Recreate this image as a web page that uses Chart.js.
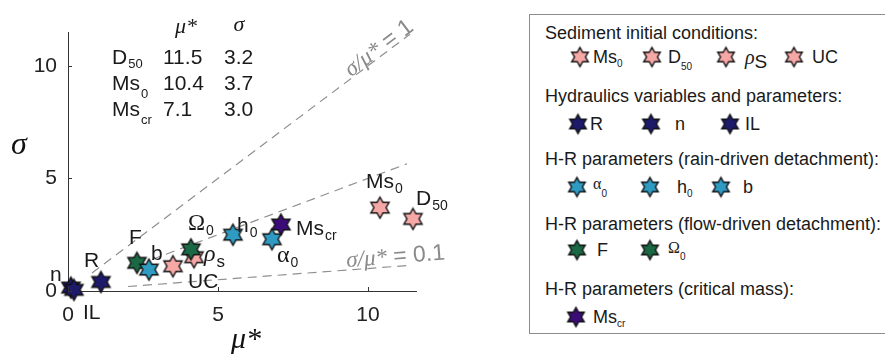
<!DOCTYPE html>
<html><head><meta charset="utf-8">
<script src="https://cdn.jsdelivr.net/npm/chart.js@4.4.1/dist/chart.umd.min.js"></script>
<style>
html,body{margin:0;padding:0;background:#fff;}
body{width:885px;height:357px;overflow:hidden;position:relative;font-family:"Liberation Sans",Arial,sans-serif;color:#1a1a1a;}
#plot{position:absolute;left:0;top:0;}
#legendBox{position:absolute;left:529px;top:14px;width:370px;height:320px;border:1.5px solid #8d8d8d;box-sizing:border-box;background:#fff;}
.lg{position:absolute;white-space:nowrap;font-size:18px;line-height:1;transform:translateY(-50%);}
.lg sub{font-size:10px;vertical-align:baseline;position:relative;top:4px;}
.star{position:absolute;transform:translate(-50%,-50%);}
.gr{font-family:"Liberation Serif",serif;}
</style></head><body>
<canvas id="plot" width="520" height="357"></canvas>
<div id="legendBox"></div>
<script>
// ---------------- DATA ----------------
const paramNames = ['Ms0','D50','rho_s','UC','R','n','IL','alpha0','h0','b','F','Omega0','Ms_cr'];
const muStar     = [10.4, 11.5, 4.2, 3.5, 1.1, 0.1, 0.2, 6.8, 5.5, 2.7, 2.3, 4.1, 7.1];
const sigmaVals  = [3.7, 3.2, 1.5, 1.1, 0.4, 0.15, 0.05, 2.3, 2.5, 0.95, 1.25, 1.85, 2.95];
const groupOf    = [0,0,0,0,1,1,1,2,2,2,3,3,4];
const groupNames = ['Sediment initial conditions:','Hydraulics variables and parameters:','H-R parameters (rain-driven detachment):','H-R parameters (flow-driven detachment):','H-R parameters (critical mass):'];
const ptLabelMain = ['Ms','D','ρ','UC','R','n','IL','α','h','b','F','Ω','Ms'];
const ptLabelSub  = ['0','50','s','','','','','0','0','','','0','cr'];
const tableNames = ['D','Ms','Ms'];
const tableSubs  = ['50','0','cr'];
const tableMu    = ['11.5','10.4','7.1'];
const tableSigma = ['3.2','3.7','3.0'];
const xTickVals = [0,5,10];
const yTickVals = [0,5,10];
const refLabels = ['1','0.5','0.1'];
const refLineA = [{x:0.8,y:0.8},{x:11.4,y:11.4}];     // sigma/mu* = 1
const refLineB = [{x:2.8,y:1.4},{x:11.3,y:5.65}];     // sigma/mu* = 0.5
const refLineC = [{x:2.0,y:0.2},{x:11.3,y:1.13}];     // sigma/mu* = 0.1

// ---------------- STYLE ----------------
const groupColors = ['#F6A8A6','#1D1A6A','#2F9BC3','#1B6845','#3B0C78'];
const groupOrder  = [4,3,0,1,2]; // lower = on top
const labelDX = [-14, 3, 10, 15, -17, -21, 9, 5, 4, 2, -8, -3, 15];
const labelDY = [-27, -21, -3, 14, -23, -14, 22, 17, -10, -17, -26, -27, 3];
const legendTitleY = [33, 96, 159, 224, 289];
const legendRowY   = [57, 124, 187, 250, 317];
const legendStarX  = [580, 652, 726, 794, 578, 651, 730, 577, 650, 721, 577, 650, 576];
const legendTextX  = [593, 668, 745, 812, 590, 675, 745, 593, 677, 743, 597, 668, 593];
const legendHTML = [
  'Ms<sub>0</sub>',
  'D<sub style="top:7px">50</sub>',
  '<i class="gr" style="font-size:20px">ρ</i><span style="font-size:19px;position:relative;top:4px">S</span>',
  'UC','R','n','IL',
  '<span class="gr" style="font-size:16px;position:relative;top:-4px">α</span><sub>0</sub>',
  'h<sub>0</sub>','b','F',
  '<span class="gr" style="font-size:16px;position:relative;top:-3px">Ω</span><sub>0</sub>',
  'Ms<sub>cr</sub>'
];

function makeStar(color, r){
  const pad = 2, s = Math.ceil(2*r + 2*pad);
  const c = document.createElement('canvas'); c.width = s; c.height = s;
  const g = c.getContext('2d'); const cx = s/2, cy = s/2;
  g.beginPath();
  for(let i=0;i<12;i++){
    const a = -Math.PI/2 + i*Math.PI/6;
    const rr = (i%2===0) ? r : r/Math.sqrt(3);
    g.lineTo(cx + rr*Math.cos(a), cy + rr*Math.sin(a));
  }
  g.closePath(); g.fillStyle = color; g.fill();
  g.lineWidth = 1.4; g.strokeStyle = '#111'; g.lineJoin = 'miter'; g.stroke();
  return c;
}
const plotStars = groupColors.map(c => makeStar(c, 10.5));
const legendStars = groupColors.map(c => makeStar(c, 9.5));

// ---------------- LEGEND (HTML) ----------------
const body = document.body;
groupNames.forEach((t,g) => {
  const d = document.createElement('div'); d.className = 'lg';
  d.style.left = '545px'; d.style.top = legendTitleY[g] + 'px'; d.textContent = t;
  body.appendChild(d);
});
paramNames.forEach((p,i) => {
  const g = groupOf[i];
  const img = legendStars[g];
  const sc = document.createElement('canvas'); sc.width = img.width; sc.height = img.height;
  sc.getContext('2d').drawImage(img,0,0); sc.className = 'star';
  sc.style.left = legendStarX[i] + 'px'; sc.style.top = legendRowY[g] + 'px';
  body.appendChild(sc);
  const d = document.createElement('div'); d.className = 'lg';
  d.style.left = legendTextX[i] + 'px'; d.style.top = legendRowY[g] + 'px';
  d.innerHTML = legendHTML[i];
  body.appendChild(d);
});

// ---------------- CHART ----------------
const datasets = [];
groupColors.forEach((col,g) => {
  const pts = [];
  paramNames.forEach((p,i) => { if(groupOf[i]===g) pts.push({x:muStar[i], y:sigmaVals[i], idx:i}); });
  datasets.push({type:'scatter', data:pts, pointStyle:plotStars[g], pointRadius:10, pointHoverRadius:10,
    backgroundColor:col, borderColor:'#111', order:groupOrder[g], clip:false});
});
[refLineA, refLineB, refLineC].forEach(L => {
  datasets.push({type:'line', data:L, borderColor:'#8f8f8f', borderWidth:1.2, borderDash:[9,6],
    pointRadius:0, fill:false, order:20, clip:false, tension:0});
});

function drawLab(ctx, x, cy, main, sub, mainFont, size, subSize, subDy, color){
  ctx.fillStyle = color || '#1a1a1a';
  ctx.textAlign = 'left'; ctx.textBaseline = 'alphabetic';
  const base = cy + 0.36*size;
  ctx.font = mainFont;
  ctx.fillText(main, x, base);
  const w = ctx.measureText(main).width;
  if(sub){
    ctx.font = subSize + 'px "Liberation Sans", Arial, sans-serif';
    ctx.fillText(sub, x + w + 1, base + subDy);
  }
}

const decor = {
  id:'decor',
  afterDatasetsDraw(chart){
    const ctx = chart.ctx, xs = chart.scales.x, ys = chart.scales.y;
    ctx.save();
    // inward ticks
    ctx.strokeStyle = '#333'; ctx.lineWidth = 1;
    xTickVals.forEach(v => { const px = Math.round(xs.getPixelForValue(v))+0.5; ctx.beginPath(); ctx.moveTo(px, ys.bottom); ctx.lineTo(px, ys.bottom-4); ctx.stroke(); });
    yTickVals.forEach(v => { const py = Math.round(ys.getPixelForValue(v))+0.5; ctx.beginPath(); ctx.moveTo(xs.left, py); ctx.lineTo(xs.left+4, py); ctx.stroke(); });
    // point labels
    const sans = '"Liberation Sans", Arial, sans-serif', serif = '"Liberation Serif", "DejaVu Serif", serif';
    paramNames.forEach((p,i) => {
      const px = xs.getPixelForValue(muStar[i]), py = ys.getPixelForValue(sigmaVals[i]);
      const m = ptLabelMain[i];
      let font = '21px ' + sans, size = 21;
      if(m==='ρ'){ font = 'italic 24px ' + serif; size = 20; }
      else if(m==='α'){ font = '24px ' + serif; size = 16; }
      else if(m==='Ω'){ font = '23px ' + serif; size = 21; }
      const subDy = (ptLabelSub[i]==='s') ? 6 : 5;
      drawLab(ctx, px + labelDX[i], py + labelDY[i], m, ptLabelSub[i], font, size, ptLabelSub[i]==='s'?17:14, subDy);
    });
    // table
    ctx.fillStyle = '#1a1a1a';
    ctx.font = 'italic 22px ' + serif; ctx.textAlign = 'center'; ctx.textBaseline = 'middle';
    ctx.fillText('μ*', 186, 27); ctx.fillText('σ', 239, 25);
    const rowY = [56, 82, 108];
    tableNames.forEach((n,r) => {
      drawLab(ctx, 112, rowY[r], n, tableSubs[r], '21px ' + sans, 21, 13, r===0?4:8);
      drawLab(ctx, 163, rowY[r], tableMu[r], '', '21px ' + sans, 21);
      drawLab(ctx, 224, rowY[r], tableSigma[r], '', '21px ' + sans, 21);
    });
    // axis titles
    ctx.fillStyle = '#111'; ctx.textAlign = 'center'; ctx.textBaseline = 'middle';
    ctx.font = 'italic 32px ' + serif; ctx.fillText('σ', 19, 146);
    ctx.font = 'italic 30px ' + serif; ctx.fillText('μ*', 246, 340);
    // reference line labels
    const refAnchors = [[refLineA, 9.45, -1], [refLineC, 9.3, -3]];
    const refTexts = [refLabels[0], refLabels[2]];
    refAnchors.forEach(([L, xv, off], k) => {
      const p0 = {x: xs.getPixelForValue(L[0].x), y: ys.getPixelForValue(L[0].y)};
      const p1 = {x: xs.getPixelForValue(L[1].x), y: ys.getPixelForValue(L[1].y)};
      const t = (xv - L[0].x)/(L[1].x - L[0].x);
      const yv = L[0].y + t*(L[1].y - L[0].y);
      const ax = xs.getPixelForValue(xv), ay = ys.getPixelForValue(yv);
      const ang = Math.atan2(p1.y - p0.y, p1.x - p0.x);
      ctx.save(); ctx.translate(ax, ay); ctx.rotate(ang); ctx.translate(0, off);
      ctx.fillStyle = '#8a8a8a'; ctx.textAlign = 'left'; ctx.textBaseline = 'alphabetic';
      ctx.font = 'italic 23px ' + serif; ctx.fillText('σ/μ*', 0, 0);
      const w = ctx.measureText('σ/μ*').width;
      ctx.font = '23px ' + sans; ctx.fillText(' = ' + refTexts[k], w, 0);
      ctx.restore();
    });
    ctx.restore();
  }
};

new Chart(document.getElementById('plot'), {
  data:{datasets},
  options:{
    responsive:false, animation:false, events:[],
    layout:{padding:{left:0, right:104, top:32, bottom:0}},
    plugins:{legend:{display:false}, tooltip:{enabled:false}},
    scales:{
      x:{type:'linear', min:0, max:11.6, position:'bottom',
        afterFit(s){ s.height = 66; },
        afterBuildTicks(s){ s.ticks = xTickVals.map(v => ({value:v})); },
        ticks:{autoSkip:false, maxRotation:0, padding:12, color:'#222', font:{family:'"Liberation Sans", Arial, sans-serif', size:21}},
        grid:{display:true, drawOnChartArea:false, drawTicks:false},
        border:{display:true, color:'#333', width:1}},
      y:{type:'linear', min:0, max:11.5, position:'left',
        afterFit(s){ s.width = 68; },
        afterBuildTicks(s){ s.ticks = yTickVals.map(v => ({value:v})); },
        ticks:{autoSkip:false, padding:11, color:'#222', font:{family:'"Liberation Sans", Arial, sans-serif', size:21}},
        grid:{display:true, drawOnChartArea:false, drawTicks:false},
        border:{display:true, color:'#333', width:1}}
    }
  },
  plugins:[decor]
});
</script></body></html>
